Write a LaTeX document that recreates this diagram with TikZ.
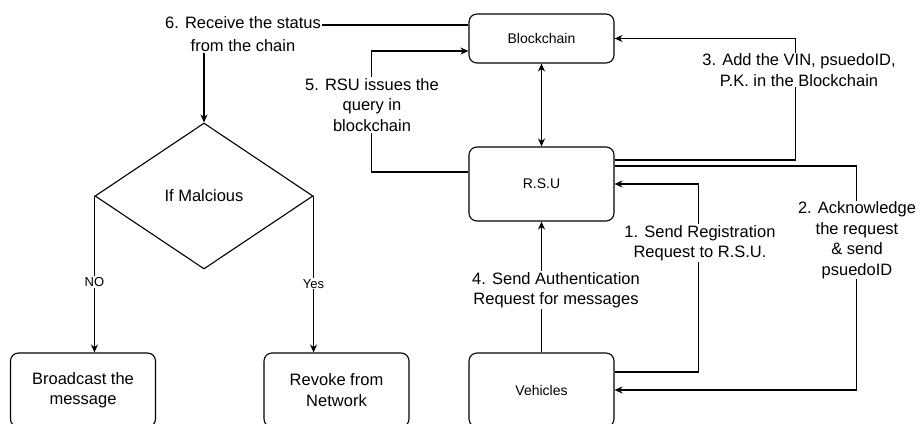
\documentclass[tikz,border=0pt]{standalone}
\usepackage{fontspec}
\setmainfont{Liberation Sans}
\usetikzlibrary{arrows.meta,shapes.geometric}
\tikzstyle{block}=[rectangle, draw, rounded corners=8pt, minimum width=145pt, minimum height=74pt, inner sep=0pt, align=center, font=\fontsize{16.5}{20.5}\selectfont]
\tikzstyle{note}=[fill=white, inner sep=1pt, align=center, font=\fontsize{16.5}{20.5}\selectfont]
\newcommand{\blocknode}{\node[block]}

\begin{document}
\begin{tikzpicture}[x=1pt, y=-1pt, line width=1.1pt
    ,>={Stealth[length=8pt,width=7pt]}
    ,small/.style={font=\fontsize{14}{17}\selectfont}
    ,tiny/.style={fill=white, inner sep=1pt, font=\fontsize{13}{15}\selectfont}
]
\useasboundingbox (0,0) rectangle (920,423);
\blocknode[small, minimum height=49pt] (bc) at (541.5,38.5) {Blockchain};
\blocknode[small] (rsu) at (541.5,184) {R.S.U};
\blocknode[small] (veh) at (541.5,390) {Vehicles};
\node[diamond, draw, minimum width=218pt, minimum height=146pt, inner sep=0pt,
      font=\fontsize{16.5}{20.5}\selectfont] (dec) at (204,196) {If Malcious};
\blocknode (bcast) at (83,390) {Broadcast the\\message};
\blocknode (rev) at (336.5,390) {Revoke from\\Network};

% status back to the decision
\draw[->] ([yshift=13.5pt]bc.west) -| (dec.north);
\node[note] (l6) at (243,34) {6. Receive the status\\[3pt]from the chain};

% query
\draw[->] ([yshift=12pt]rsu.west) -| ([xshift=-97pt,yshift=-12.5pt]bc.west) -- ([yshift=-12.5pt]bc.west);
\node[note] (l5) at (372,105) {5. RSU issues the\\query in\\blockchain};

\draw[<->] (bc) -- (rsu);

\draw[->] ([yshift=24pt]rsu.east) -| ([xshift=181pt]bc.east) -- (bc.east);
\node[note] (l3) at (799,70) {3. Add the VIN, psuedoID,\\P.K. in the Blockchain};

\draw[->] ([yshift=18pt]rsu.east) -| ([xshift=242pt]veh.east) -- (veh.east);
\node[note] (l2) at (857,240) {2. Acknowledge\\the request\\\& send\\psuedoID};

\draw[->] ([yshift=18pt]veh.east) -| ([xshift=84pt]rsu.east) -- (rsu.east);
\node[note] (l1) at (700,243) {1. Send Registration\\Request to R.S.U.};

\draw[->] (veh) -- (rsu);
\node[note] (l4) at (556,290) {4. Send Authentication\\Request for messages};

% decision
\draw[->] (dec.west) -- (dec.west |- bcast.north) node[tiny, pos=0.55] (no) {NO};
\draw[->] (dec.east) -- (dec.east |- rev.north) node[tiny, pos=0.56] (yes) {Yes};
\end{tikzpicture}
\end{document}
